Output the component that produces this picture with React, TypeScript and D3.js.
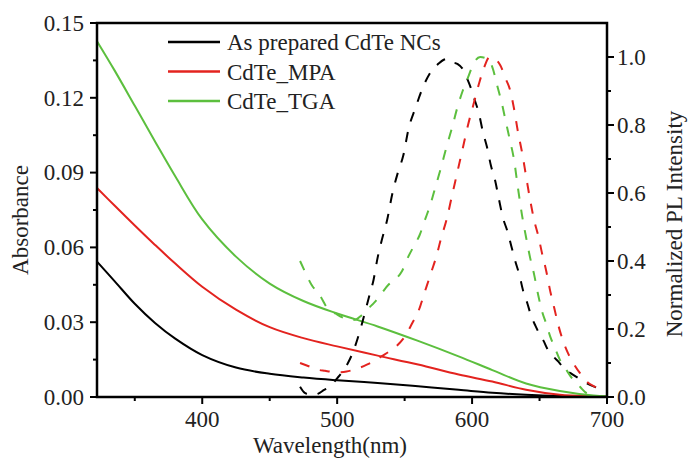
import React, { useEffect, useRef } from 'react';
import * as d3 from 'd3';

// Absorbance spectra (left axis)
const absNm = [322, 335, 350, 365, 380, 400, 425, 450, 475, 500, 530, 560, 590, 615, 640, 665, 690, 700];
const absBlack = [0.0543, 0.0465, 0.0374, 0.0297, 0.0234, 0.0168, 0.0118, 0.0093, 0.0078, 0.0067, 0.0056, 0.0043, 0.0029, 0.0017, 0.0009, 0.0004, 0.0002, 0.0001];
const absRed = [0.0838, 0.0768, 0.0688, 0.061, 0.0535, 0.0442, 0.035, 0.028, 0.0236, 0.0203, 0.0166, 0.013, 0.009, 0.0062, 0.0029, 0.0009, 0.0003, 0.0002];
const absGreen = [0.1427, 0.131, 0.1168, 0.1025, 0.0885, 0.0712, 0.0563, 0.0455, 0.0385, 0.0335, 0.0283, 0.0225, 0.0163, 0.0108, 0.0054, 0.0024, 0.0006, 0.0003];

// Normalized PL spectra (right axis)
const plBlackNm = [472.5, 476, 481, 486, 490, 495, 500, 504, 508, 512, 515, 518, 521, 524, 527, 530, 533, 537, 541, 545, 549, 553, 558, 564, 570, 575, 579, 582, 585, 589, 593, 596, 599, 602, 605, 608, 611, 614, 617, 620, 623, 626, 629, 632, 635, 638, 641, 644, 647, 650, 653, 656, 660, 664, 668, 673, 679, 685, 692, 700];
const plBlack = [0.03, 0.012, 0.006, 0.01, 0.02, 0.032, 0.055, 0.075, 0.1, 0.135, 0.17, 0.21, 0.255, 0.3, 0.345, 0.41, 0.46, 0.52, 0.6, 0.66, 0.71, 0.79, 0.85, 0.915, 0.96, 0.98, 0.992, 0.995, 0.985, 0.98, 0.965, 0.94, 0.91, 0.873, 0.835, 0.78, 0.736, 0.68, 0.638, 0.58, 0.525, 0.49, 0.445, 0.4, 0.36, 0.31, 0.275, 0.236, 0.209, 0.185, 0.165, 0.14, 0.12, 0.104, 0.084, 0.07, 0.055, 0.04, 0.028, 0.02];
const plRedNm = [472.5, 480, 486, 491, 496, 501, 507, 512, 516, 522, 527, 533, 539, 544, 550, 556, 560, 565, 570, 574, 577, 581, 585, 589, 593, 597, 601, 605, 609, 613, 617, 621, 625, 628, 631, 634, 637, 640, 643, 646, 649, 652, 655, 658, 661, 664, 667, 671, 675, 680, 685, 690, 700];
const plRed = [0.1, 0.089, 0.08, 0.077, 0.074, 0.073, 0.075, 0.08, 0.085, 0.095, 0.105, 0.12, 0.135, 0.15, 0.177, 0.22, 0.25, 0.31, 0.37, 0.42, 0.467, 0.52, 0.59, 0.66, 0.73, 0.8, 0.86, 0.92, 0.97, 1.0, 0.995, 0.975, 0.935, 0.905, 0.85, 0.78, 0.72, 0.65, 0.58, 0.52, 0.475, 0.42, 0.37, 0.31, 0.26, 0.21, 0.17, 0.13, 0.1, 0.07, 0.045, 0.032, 0.02];
const plGreenNm = [472.5, 476, 481, 487, 493, 499, 505, 510, 514, 518, 523, 528, 533, 538, 543, 548, 553, 557, 561, 565, 569, 573, 577, 581, 585, 589, 593, 597, 601, 606, 611, 615, 619, 622, 625, 628, 631, 634, 637, 640, 643, 646, 649, 652, 655, 658, 661, 665, 670, 675, 680, 685, 692, 700];
const plGreen = [0.4, 0.37, 0.33, 0.3, 0.26, 0.245, 0.232, 0.226, 0.228, 0.24, 0.26, 0.28, 0.305, 0.33, 0.345, 0.37, 0.415, 0.445, 0.475, 0.52, 0.565, 0.62, 0.675, 0.735, 0.79, 0.85, 0.9, 0.94, 0.98, 1.0, 0.995, 0.97, 0.91, 0.865, 0.81, 0.756, 0.7, 0.615, 0.535, 0.47, 0.41, 0.36, 0.3, 0.25, 0.215, 0.177, 0.148, 0.11, 0.079, 0.05, 0.03, 0.011, 0.004, 0.0];

const seriesNames = ['As prepared CdTe NCs', 'CdTe_MPA', 'CdTe_TGA'];
const seriesColors = ['#000000', '#e3231f', '#5cbf3e'];

const xTicks = [400, 500, 600, 700];
const xMinorTicks = [350, 450, 550, 650];
const absTicks = [0, 0.03, 0.06, 0.09, 0.12, 0.15];
const absMinorTicks = [0.015, 0.045, 0.075, 0.105, 0.135];
const plTicks = [0, 0.2, 0.4, 0.6, 0.8, 1.0];
const plMinorTicks = [0.1, 0.3, 0.5, 0.7, 0.9];

const App = () => {
  const svgRef = useRef<SVGSVGElement>(null);
  const width = 688;
  const height = 460;
  const left = 97;
  const right = 607;
  const top = 23;
  const bottom = 397;
  const font = '"Liberation Serif", "Times New Roman", serif';

  useEffect(() => {
    const svg = d3.select(svgRef.current);
    svg.selectAll('*').remove();

    const x = d3.scaleLinear().domain([322, 700]).range([left, right]);
    const yAbs = d3.scaleLinear().domain([0, 0.15]).range([bottom, top]);
    const yPl = d3.scaleLinear().domain([0, 1.1]).range([bottom, top]);

    const absLine = d3
      .line<[number, number]>()
      .x((d) => x(d[0]))
      .y((d) => yAbs(d[1]))
      .curve(d3.curveCatmullRom.alpha(0.5));
    const plLine = d3
      .line<[number, number]>()
      .x((d) => x(d[0]))
      .y((d) => yPl(d[1]))
      .curve(d3.curveMonotoneX);

    const absSeries = [absBlack, absRed, absGreen];
    const plSeries = [
      [plBlackNm, plBlack],
      [plRedNm, plRed],
      [plGreenNm, plGreen],
    ];

    // solid absorbance curves
    absSeries.forEach((vals, i) => {
      svg
        .append('path')
        .attr('d', absLine(absNm.map((n, j) => [n, vals[j]] as [number, number])))
        .attr('fill', 'none')
        .attr('stroke', seriesColors[i])
        .attr('stroke-width', 2);
    });

    // dashed PL curves
    plSeries.forEach(([nm, vals], i) => {
      svg
        .append('path')
        .attr('d', plLine(nm.map((n, j) => [n, vals[j]] as [number, number])))
        .attr('fill', 'none')
        .attr('stroke', seriesColors[i])
        .attr('stroke-width', 2)
        .attr('stroke-dasharray', '10,11');
    });

    // frame
    svg
      .append('rect')
      .attr('x', left)
      .attr('y', top)
      .attr('width', right - left)
      .attr('height', bottom - top)
      .attr('fill', 'none')
      .attr('stroke', '#000')
      .attr('stroke-width', 2.5);

    const ticks = svg.append('g').attr('stroke', '#000').attr('stroke-width', 2);

    // bottom ticks
    xTicks.forEach((t) => {
      ticks.append('line').attr('x1', x(t)).attr('x2', x(t)).attr('y1', bottom).attr('y2', bottom + 7);
    });
    xMinorTicks.forEach((t) => {
      ticks.append('line').attr('x1', x(t)).attr('x2', x(t)).attr('y1', bottom).attr('y2', bottom + 4);
    });
    // left ticks
    absTicks.forEach((t) => {
      ticks.append('line').attr('x1', left - 7).attr('x2', left).attr('y1', yAbs(t)).attr('y2', yAbs(t));
    });
    absMinorTicks.forEach((t) => {
      ticks.append('line').attr('x1', left - 4).attr('x2', left).attr('y1', yAbs(t)).attr('y2', yAbs(t));
    });
    // right ticks
    plTicks.forEach((t) => {
      ticks.append('line').attr('x1', right).attr('x2', right + 7).attr('y1', yPl(t)).attr('y2', yPl(t));
    });
    plMinorTicks.forEach((t) => {
      ticks.append('line').attr('x1', right).attr('x2', right + 4).attr('y1', yPl(t)).attr('y2', yPl(t));
    });

    const labels = svg.append('g').attr('font-family', font).attr('font-size', 23).attr('fill', '#222');

    xTicks.forEach((t) => {
      labels.append('text').attr('x', x(t)).attr('y', 427).attr('text-anchor', 'middle').text(t);
    });
    absTicks.forEach((t) => {
      labels
        .append('text')
        .attr('x', left - 13)
        .attr('y', yAbs(t))
        .attr('dy', '0.34em')
        .attr('text-anchor', 'end')
        .text(d3.format('.2f')(t));
    });
    plTicks.forEach((t) => {
      labels
        .append('text')
        .attr('x', right + 10)
        .attr('y', yPl(t))
        .attr('dy', '0.34em')
        .text(d3.format('.1f')(t));
    });

    // axis titles
    labels.append('text').attr('x', 330).attr('y', 453).attr('text-anchor', 'middle').text('Wavelength(nm)');
    labels
      .append('text')
      .attr('transform', 'translate(28, 220) rotate(-90)')
      .attr('text-anchor', 'middle')
      .text('Absorbance');
    labels
      .append('text')
      .attr('transform', 'translate(682, 224) rotate(-90)')
      .attr('text-anchor', 'middle')
      .text('Normalized PL Intensity');

    // legend
    seriesNames.forEach((name, i) => {
      const ly = 42 + i * 29.5;
      svg
        .append('line')
        .attr('x1', 168)
        .attr('x2', 220)
        .attr('y1', ly)
        .attr('y2', ly)
        .attr('stroke', seriesColors[i])
        .attr('stroke-width', 2.5);
      labels.append('text').attr('x', 227).attr('y', ly).attr('dy', '0.35em').text(name);
    });
  }, []);

  return (
    <svg
      ref={svgRef}
      width={width}
      height={height}
      style={{ position: 'absolute', left: 0, top: 0, background: '#fff' }}
    ></svg>
  );
};

export default App;
